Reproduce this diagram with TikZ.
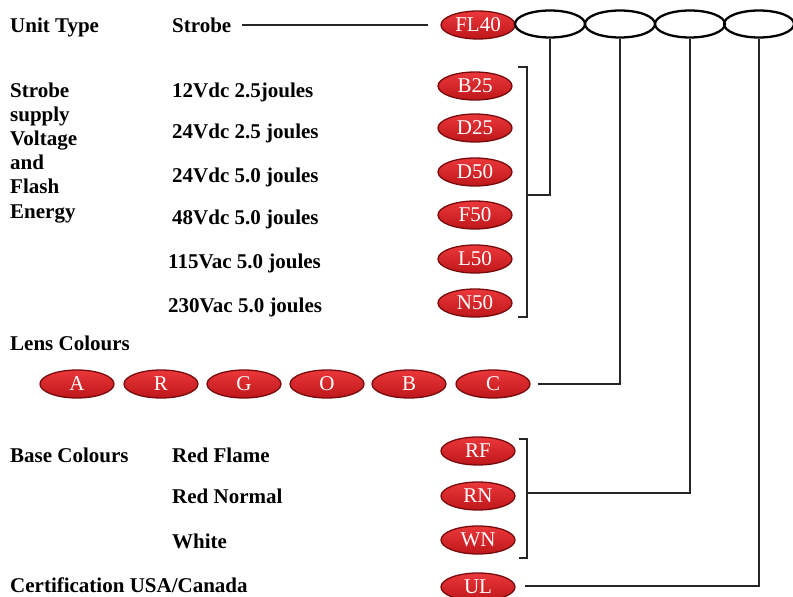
\documentclass[tikz,border=0pt]{standalone}
\usepackage{fontspec}
\setmainfont{Liberation Serif}
\usetikzlibrary{shapes.geometric,positioning,calc}
\definecolor{pillred}{RGB}{232,28,32}
\definecolor{pilldark}{RGB}{120,10,12}
\tikzset{
    pill/.style={shape=ellipse, minimum width=74pt, minimum height=28pt, inner sep=0pt,
        top color=pillred!88!white, middle color=pillred, bottom color=pillred!82!black,
        draw=pilldark, line width=1.3pt, text=white, font=\fontsize{21}{22}\selectfont},
    slot/.style={shape=ellipse, draw=black, line width=2.3pt, minimum width=70pt, minimum height=27pt, inner sep=0pt},
    lbl/.style={anchor=base west, inner sep=0pt, font=\bfseries\fontsize{21}{24.2}\selectfont},
    wire/.style={draw=black!85, line width=1.1pt}
}

\begin{document}
\begin{tikzpicture}[x=1pt,y=-1pt]
    \useasboundingbox (0,0) rectangle (793,597);
    % unit type
    \node[lbl] (unit) at (10,32) {Unit Type};
    \node[lbl] (strobe) at (172,32) {Strobe};
    \node[pill] (fl) at (478,25) {FL40};
    \node[slot] (s1) at (550,24) {};
    \node[slot] (s2) at (620,24) {};
    \node[slot] (s3) at (690,24) {};
    \node[slot] (s4) at (759,24) {};
    \draw[wire] ($(fl.west -| strobe.east)+(10,0)$) -- ($(fl.west)+(-12,0)$);

    % supply voltage
    \node[lbl, align=left] (supply) at (10,218) {Strobe\\supply\\Voltage\\and\\Flash\\Energy};
    \node[lbl] (v1) at (172,97) {12Vdc 2.5joules};
    \node[lbl] (v2) at (172,138) {24Vdc 2.5 joules};
    \node[lbl] (v3) at (172,182) {24Vdc 5.0 joules};
    \node[lbl] (v4) at (172,224) {48Vdc 5.0 joules};
    \node[lbl] (v5) at (168,268) {115Vac 5.0 joules};
    \node[lbl] (v6) at (168,312) {230Vac 5.0 joules};
    \node[pill] (b25) at (475,86) {B25};
    \node[pill] (d25) at (475,128) {D25};
    \node[pill] (d50) at (475,172) {D50};
    \node[pill] (f50) at (475,215) {F50};
    \node[pill] (l50) at (475,259) {L50};
    \node[pill] (n50) at (475,303) {N50};
    \coordinate (sup top) at (527,67);
    \coordinate (sup bot) at (527,317);
    \coordinate (sup mid) at (527,195);
    \draw[wire] ([xshift=-9pt]sup top) -- (sup top) -- (sup bot) -- ([xshift=-9pt]sup bot);
    \draw[wire] (sup mid) -| (s1.south);

    % lens colours
    \node[lbl] (lens) at (10,350) {Lens Colours};
    \node[pill] (a) at (77,384) {A};
    \node[pill] (r) at (161,384) {R};
    \node[pill] (g) at (244,384) {G};
    \node[pill] (o) at (327,384) {O};
    \node[pill] (b) at (409,384) {B};
    \node[pill] (c) at (493,384) {C};
    \draw[wire] ([xshift=7pt]c.east) -| (s2.south);

    % base colours
    \node[lbl] (base) at (10,462) {Base Colours};
    \node[lbl] (rfl) at (172,462) {Red Flame};
    \node[lbl] (rnl) at (172,503) {Red Normal};
    \node[lbl] (wnl) at (172,548) {White};
    \node[pill] (rf) at (478,451) {RF};
    \node[pill] (rn) at (478,496) {RN};
    \node[pill] (wn) at (478,540) {WN};
    \coordinate (base top) at (527,439);
    \coordinate (base bot) at (527,558);
    \coordinate (base mid) at (527,493);
    \draw[wire] ([xshift=-8pt]base top) -- (base top) -- (base bot) -- ([xshift=-8pt]base bot);
    \draw[wire] (base mid) -| (s3.south);

    % certification
    \node[lbl] (cert) at (10,592) {Certification USA/Canada};
    \node[pill] (ul) at (478,587) {UL};
    \draw[wire] ([xshift=9pt,yshift=1pt]ul.east) -| (s4.south);
\end{tikzpicture}
\end{document}
